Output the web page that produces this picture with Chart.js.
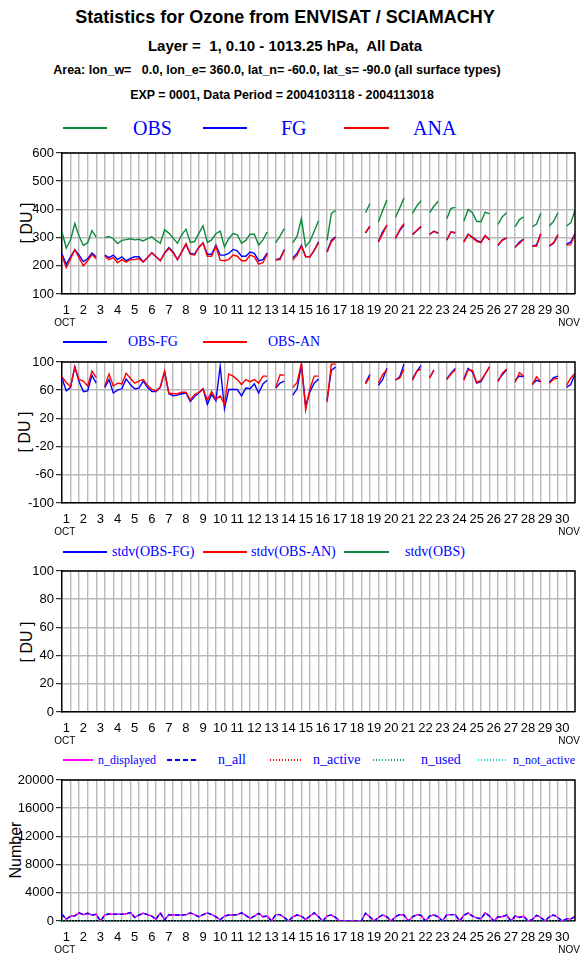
<!DOCTYPE html>
<html><head><meta charset="utf-8">
<script src="https://cdn.jsdelivr.net/npm/chart.js@4.4.1/dist/chart.umd.min.js"></script>
<style>
html,body{margin:0;padding:0;background:#fff;width:584px;height:960px;overflow:hidden;}
#wrap{position:relative;width:584px;height:960px;}
canvas{position:absolute;left:0;}
.t{position:absolute;left:0;width:570px;text-align:center;font-family:"Liberation Sans",Arial,sans-serif;font-weight:bold;color:#000;white-space:pre;line-height:1;}
.lg{position:absolute;font-family:"Liberation Serif","Times New Roman",serif;color:#0000ff;white-space:pre;line-height:1;}
.ln{position:absolute;height:1.5px;}
.yt{position:absolute;font-family:"Liberation Sans",Arial,sans-serif;font-size:16px;line-height:1;white-space:pre;transform:translate(-50%,-50%) rotate(-90deg);color:#000;}
</style></head>
<body><div id="wrap">
<div class="t" style="top:8px;font-size:18px;">Statistics for Ozone from ENVISAT / SCIAMACHY</div>
<div class="t" style="top:38px;font-size:15px;">Layer =  1, 0.10 - 1013.25 hPa,  All Data</div>
<div class="t" style="top:64px;font-size:12.5px;width:554px;">Area: lon_w=   0.0, lon_e= 360.0, lat_n= -60.0, lat_s= -90.0 (all surface types)</div>
<div class="t" style="top:89px;font-size:12.4px;width:564px;">EXP = 0001, Data Period = 2004103118 - 2004113018</div>

<div class="ln" style="left:63px;width:44px;top:127px;background:#0b8a3a;"></div>
<div class="lg" style="left:133px;top:118px;font-size:20px;">OBS</div>
<div class="ln" style="left:203px;width:44px;top:127px;background:#0000ff;"></div>
<div class="lg" style="left:281px;top:118px;font-size:20px;">FG</div>
<div class="ln" style="left:344px;width:45px;top:127px;background:#ff0000;"></div>
<div class="lg" style="left:413px;top:118px;font-size:20px;">ANA</div>

<div class="ln" style="left:63px;width:44px;top:341px;background:#0000ff;"></div>
<div class="lg" style="left:128px;top:335px;font-size:14px;">OBS-FG</div>
<div class="ln" style="left:203px;width:44px;top:341px;background:#ff0000;"></div>
<div class="lg" style="left:268px;top:335px;font-size:14px;">OBS-AN</div>

<div class="ln" style="left:63px;width:44px;top:551px;background:#0000ff;"></div>
<div class="lg" style="left:112px;top:545px;font-size:14px;">stdv(OBS-FG)</div>
<div class="ln" style="left:203px;width:44px;top:551px;background:#ff0000;"></div>
<div class="lg" style="left:251px;top:545px;font-size:14px;">stdv(OBS-AN)</div>
<div class="ln" style="left:344px;width:45px;top:551px;background:#0b8a3a;"></div>
<div class="lg" style="left:405px;top:545px;font-size:14px;">stdv(OBS)</div>

<div class="ln" style="left:63px;width:30px;top:759px;background:#ff00ff;"></div>
<div class="lg" style="left:98px;top:754px;font-size:12px;">n_displayed</div>
<div class="ln" style="left:167px;width:32px;top:759px;background:repeating-linear-gradient(to right,#0000ff 0 5px,transparent 5px 8px);"></div>
<div class="lg" style="left:218px;top:753px;font-size:14px;">n_all</div>
<div class="ln" style="left:270px;width:33px;top:759px;background:repeating-linear-gradient(to right,#ff0000 0 1px,transparent 1px 3px);"></div>
<div class="lg" style="left:313px;top:753px;font-size:14px;">n_active</div>
<div class="ln" style="left:373px;width:32px;top:759px;background:repeating-linear-gradient(to right,#00aa44 0 1px,transparent 1px 3px);"></div>
<div class="lg" style="left:421px;top:753px;font-size:14px;">n_used</div>
<div class="ln" style="left:478px;width:30px;top:759px;background:repeating-linear-gradient(to right,#00e0e0 0 1px,transparent 1px 3px);"></div>
<div class="lg" style="left:513px;top:754px;font-size:12px;">n_not_active</div>

<div class="yt" style="left:27px;top:223px;">[ DU ]</div>
<div class="yt" style="left:25px;top:432px;">[ DU ]</div>
<div class="yt" style="left:27px;top:642px;">[ DU ]</div>
<div class="yt" style="left:16px;top:850px;">Number</div>

<canvas id="c1" width="584" height="191" style="top:143px"></canvas>
<canvas id="c2" width="584" height="191" style="top:352px"></canvas>
<canvas id="c3" width="584" height="191" style="top:561px"></canvas>
<canvas id="c4" width="584" height="191" style="top:770px"></canvas>
</div>
<script>
// x axis: 6-hourly steps from 2004103118 (index 0) to index 120
const dayLabels = ['1','2','3','4','5','6','7','8','9','10','11','12','13','14','15','16','17','18','19','20','21','22','23','24','25','26','27','28','29','30'];

const obs = [320,263,292,350,305,272,282,325,302,null,
300,304,296,279,290,293,296,292,294,288,296,303,290,280,328,316,298,280,310,330,283,286,315,342,283,292,314,323,267,296,314,310,280,290,312,312,273,292,320,null,
282,305,332,null,282,305,367,268,288,322,360,null,290,385,397,null,null,null,null,null,null,388,420,null,
355,395,434,null,372,405,440,null,386,412,431,null,389,411,429,null,367,404,407,null,
358,400,388,358,356,390,384,null,347,374,388,null,338,364,374,null,338,348,386,null,341,358,388,null,341,352,397];

const fg = [242,205,232,257,238,215,225,245,232,null,
238,229,238,222,232,218,226,232,232,214,229,246,232,218,246,265,249,222,249,276,244,241,265,281,241,241,273,238,238,244,258,253,234,234,249,244,218,222,246,null,
222,226,258,null,228,245,272,233,232,255,285,null,250,290,303,null,null,null,null,null,null,316,340,null,
286,320,343,null,298,325,345,null,310,325,338,null,311,323,315,null,291,320,316,null,
286,312,302,290,284,307,292,null,272,292,299,null,265,284,295,null,270,274,314,null,270,280,308,null,277,284,314];

const ana = [235,193,225,257,228,200,218,240,225,null,
234,222,229,211,222,213,222,222,226,213,229,246,232,218,244,261,246,222,249,279,241,238,265,281,234,234,269,220,218,222,238,234,218,218,238,232,206,211,241,null,
220,222,255,null,220,238,270,232,232,255,282,null,248,285,300,null,null,null,null,null,null,318,341,null,
285,313,345,null,297,328,350,null,312,325,341,null,312,322,317,null,292,321,318,null,
284,311,300,287,282,307,291,null,275,290,298,null,267,279,294,null,270,269,314,null,271,282,311,null,274,275,313];

const obsMinusFg = [77,59,64,93,72,58,59,81,70,null,
64,75,56,60,62,76,68,62,63,73,64,58,58,64,86,55,52,53,55,56,44,51,56,62,40,54,45,94,34,61,61,61,52,63,62,69,56,69,74,null,
63,70,73,null,53,62,96,38,58,70,76,null,46,88,93,null,null,null,null,null,null,70,82,null,
67,75,91,null,74,79,97,null,76,87,95,null,78,88,null,null,76,84,91,null,
76,91,86,70,72,83,93,null,74,82,89,null,74,80,79,null,68,74,72,null,71,78,80,null,64,68,83];

const obsMinusAn = [79,71,65,93,75,73,66,87,78,null,
66,83,66,70,69,84,77,70,73,75,67,61,59,65,87,56,55,55,57,57,46,54,57,62,46,58,47,52,40,83,80,75,68,75,72,75,70,80,80,null,
64,82,81,null,64,71,98,32,62,80,80,null,43,97,97,null,null,null,null,null,null,69,79,null,
70,82,89,null,75,77,90,null,74,87,90,null,77,89,null,null,75,83,89,null,
74,89,88,71,74,83,93,null,72,84,90,null,71,85,80,null,68,79,72,null,70,76,77,null,67,77,84];

const nDisplayed = [950,250,700,750,1150,900,1100,850,950,0,
850,1000,950,950,950,1000,1200,500,850,1100,
900,700,250,1150,150,900,850,850,850,900,
1150,900,600,900,1150,900,600,150,700,850,
850,900,1150,800,350,700,1100,600,700,0,
900,900,500,0,600,850,700,200,700,1140,
600,0,700,860,500,0,0,0,0,0,
0,1100,600,0,500,860,600,0,600,900,
850,0,600,900,800,0,700,860,600,0,
900,900,900,0,800,1140,700,450,300,1140,
700,0,600,600,850,0,700,500,700,0,
200,800,500,0,600,860,500,0,300,300,
600];
const nAll = nDisplayed.slice();
const nActive = nDisplayed.slice();
const nUsed = nDisplayed.slice();
const nNotActive = nDisplayed.map(() => 0);

// stdv panel has no values in the reference
const stdvObsFg = [];
const stdvObsAn = [];
const stdvObs = [];

const xTickVals = Array.from({length: 121}, (_, i) => i);
const FONT = '"Liberation Sans", Arial, sans-serif';
const GRID = '#b9b9b9';

function pts(arr) { return arr.map((v, i) => ({x: i, y: v})); }

const framePlugin = {
  id: 'frame',
  afterDraw(chart) {
    const {ctx, chartArea: a, scales} = chart;
    ctx.save();
    ctx.strokeStyle = '#000';
    ctx.lineWidth = 1.5;
    ctx.beginPath();
    ctx.moveTo(a.left, a.top); ctx.lineTo(a.right, a.top); ctx.lineTo(a.right, a.bottom);
    ctx.stroke();
    ctx.fillStyle = '#000';
    ctx.font = '10px ' + FONT;
    ctx.textAlign = 'center';
    ctx.textBaseline = 'middle';
    const x = scales.x;
    ctx.fillText('OCT', x.getPixelForValue(1) - 1.5, a.bottom + 29);
    ctx.fillText('NOV', x.getPixelForValue(117) + 7, a.bottom + 29);
    ctx.restore();
  }
};

function makeChart(id, yMin, yMax, yStep, labelVals, datasets, zeroLine) {
  const yTicks = [];
  for (let v = yMin; v <= yMax + 1e-9; v += yStep) yTicks.push(v);
  return new Chart(document.getElementById(id), {
    type: 'line',
    data: {datasets},
    options: {
      responsive: false, animation: false, devicePixelRatio: 1,
      layout: {padding: {left: 0, right: 6, top: 10, bottom: 0}},
      plugins: {legend: {display: false}, tooltip: {enabled: false}},
      elements: {point: {radius: 0}, line: {borderWidth: 1.4, tension: 0}},
      spanGaps: false,
      scales: {
        x: {
          type: 'linear', min: 0, max: 120,
          afterBuildTicks: s => { s.ticks = xTickVals.map(v => ({value: v})); },
          afterFit: s => { s.height = 40; },
          ticks: {
            autoSkip: false, maxRotation: 0, minRotation: 0, padding: 9, color: '#000',
            font: {family: FONT, size: 13},
            callback: v => ((v - 1) % 4 === 0 ? dayLabels[(v - 1) / 4] : '')
          },
          grid: {
            drawTicks: false, lineWidth: 1.4,
            color: c => (c.tick && c.tick.value % 2 === 0 && c.tick.value > 0 && c.tick.value < 120) ? GRID : 'rgba(0,0,0,0)'
          },
          border: {display: true, color: '#000', width: 1.5}
        },
        y: {
          type: 'linear', min: yMin, max: yMax,
          afterBuildTicks: s => { s.ticks = yTicks.map(v => ({value: v})); },
          afterFit: s => { s.width = 62; },
          ticks: {
            padding: 2, color: '#000', font: {family: FONT, size: 13},
            callback: v => (labelVals.includes(v) ? String(v) : '')
          },
          grid: {
            drawTicks: true, tickLength: 6, tickColor: '#000', tickWidth: 1,
            lineWidth: c => (zeroLine && c.tick && c.tick.value === 0) ? 1.5 : 1.4,
            color: c => (zeroLine && c.tick && c.tick.value === 0) ? '#000' : GRID
          },
          border: {display: true, color: '#000', width: 1.5}
        }
      }
    },
    plugins: [framePlugin]
  });
}

makeChart('c1', 100, 600, 50, [100, 200, 300, 400, 500, 600], [
  {label: 'ANA', data: pts(ana), borderColor: '#ff0000', order: 1},
  {label: 'FG', data: pts(fg), borderColor: '#0000ff', order: 2},
  {label: 'OBS', data: pts(obs), borderColor: '#0b8a3a', order: 3}
], false);

makeChart('c2', -100, 100, 20, [-100, -60, -20, 20, 60, 100], [
  {label: 'OBS-AN', data: pts(obsMinusAn), borderColor: '#ff0000', order: 1},
  {label: 'OBS-FG', data: pts(obsMinusFg), borderColor: '#0000ff', order: 2}
], true);

makeChart('c3', 0, 100, 10, [0, 20, 40, 60, 80, 100], [
  {label: 'stdv(OBS-FG)', data: pts(stdvObsFg), borderColor: '#0000ff'},
  {label: 'stdv(OBS-AN)', data: pts(stdvObsAn), borderColor: '#ff0000'},
  {label: 'stdv(OBS)', data: pts(stdvObs), borderColor: '#0b8a3a'}
], false);

makeChart('c4', 0, 20000, 2000, [0, 4000, 8000, 12000, 16000, 20000], [
  {label: 'n_all', data: pts(nAll), borderColor: '#0000ff', borderDash: [4, 3], order: 1},
  {label: 'n_displayed', data: pts(nDisplayed), borderColor: '#ff00ff', order: 2},
  {label: 'n_not_active', data: pts(nNotActive), borderColor: '#00e0e0', borderDash: [1, 2], order: 3},
  {label: 'n_active', data: pts(nActive), borderColor: '#ff0000', borderDash: [1, 2], order: 4},
  {label: 'n_used', data: pts(nUsed), borderColor: '#00aa44', borderDash: [1, 2], order: 5}
], false);
</script>
</body></html>
